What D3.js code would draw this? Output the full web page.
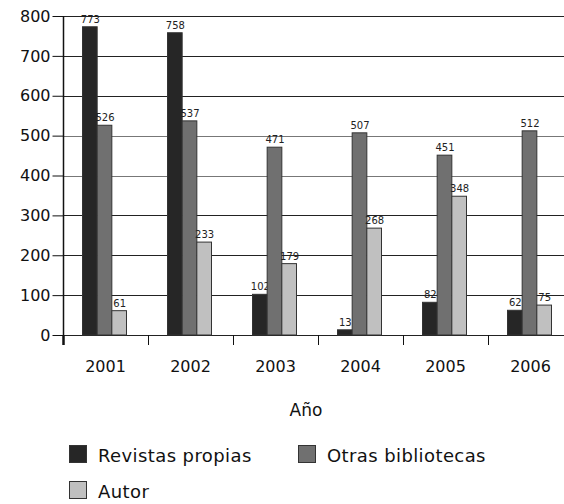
<!DOCTYPE html>
<html>
<head>
<meta charset="utf-8">
<script src="https://cdn.jsdelivr.net/npm/d3@7"></script>
<style>
  html, body { margin: 0; padding: 0; background: #fff; }
  svg { display: block; }
  text { font-family: "DejaVu Sans", Verdana, sans-serif; }
</style>
</head>
<body>
<svg id="chart" width="564" height="504"></svg>
<script>
// Préstamos por año y procedencia
const years = ["2001", "2002", "2003", "2004", "2005", "2006"];
const seriesNames = ["Revistas propias", "Otras bibliotecas", "Autor"];
const revistasPropias = [773, 758, 102, 13, 82, 62];
const otrasBibliotecas = [526, 537, 471, 507, 451, 512];
const autor = [61, 233, 179, 268, 348, 75];
const yTicks = [0, 100, 200, 300, 400, 500, 600, 700, 800];
const seriesColors = ["#262626", "#707070", "#c0c0c0"];
const gridColors = ["#222", "#222", "#222", "#222", "#777", "#777", "#222", "#222", "#222"];

const seriesValues = [revistasPropias, otrasBibliotecas, autor];

const svg = d3.select("#chart");
const plotLeft = 63, plotTop = 16, plotBottom = 335;
const groupW = 85;

const x = d3.scaleBand().domain(years).range([plotLeft, plotLeft + groupW * years.length]).padding(0);
const xInner = d3.scaleBand().domain(seriesNames).range([19, 63]).padding(0);
const y = d3.scaleLinear().domain([0, 800]).range([plotBottom, plotTop]);

// horizontal grid lines
svg.append("g").selectAll("line").data(yTicks).join("line")
  .attr("x1", plotLeft).attr("x2", 564)
  .attr("y1", d => Math.round(y(d)) + 0.5).attr("y2", d => Math.round(y(d)) + 0.5)
  .attr("stroke", (d, i) => gridColors[i]).attr("stroke-width", 1);

// bars with value labels
const groups = svg.append("g").selectAll("g").data(years).join("g")
  .attr("transform", d => `translate(${x(d)},0)`);

groups.each(function(yr, gi) {
  const g = d3.select(this);
  seriesNames.forEach((s, si) => {
    const v = seriesValues[si][gi];
    g.append("rect")
      .attr("x", xInner(s) + 0.5)
      .attr("width", xInner.bandwidth())
      .attr("y", y(v))
      .attr("height", y(0) - y(v))
      .attr("fill", seriesColors[si])
      .attr("stroke", "#333").attr("stroke-width", 1);
    g.append("text")
      .attr("x", xInner(s) + xInner.bandwidth() / 2 + 1)
      .attr("y", y(v) - 4)
      .attr("text-anchor", "middle")
      .attr("font-size", 10)
      .attr("fill", "#222")
      .text(v);
  });
});

// y axis
const yAxis = d3.axisLeft(y).tickValues(yTicks).tickSize(11).tickPadding(2).tickFormat(d3.format("d"));
const gy = svg.append("g").attr("transform", `translate(${plotLeft + 0.5},0)`).call(yAxis);
gy.select(".domain").attr("stroke", "#111").attr("stroke-width", 1.5).attr("d", `M0,${plotTop}V${plotBottom}`);
gy.selectAll(".tick line").attr("stroke", "#111");
gy.selectAll(".tick text").attr("font-size", 16).attr("fill", "#111")
  .attr("font-family", "DejaVu Sans, Verdana, sans-serif");

// x axis: ticks at group boundaries, labels at group centres
const bounds = years.map(d => x(d));
svg.append("g").selectAll("line").data(bounds).join("line")
  .attr("x1", d => Math.round(d) + 0.5).attr("x2", d => Math.round(d) + 0.5)
  .attr("y1", plotBottom).attr("y2", plotBottom + 10)
  .attr("stroke", "#111").attr("stroke-width", (d, i) => i === 0 ? 2.5 : 1);

svg.append("g").selectAll("text").data(years).join("text")
  .attr("x", d => x(d) + x.bandwidth() / 2)
  .attr("y", 372)
  .attr("text-anchor", "middle")
  .attr("font-size", 16)
  .attr("fill", "#111")
  .text(d => d);

svg.append("text")
  .attr("x", 306).attr("y", 416)
  .attr("text-anchor", "middle")
  .attr("font-size", 17).attr("fill", "#111")
  .text("Año");

// legend
const legendPos = [[69, 445], [298, 445], [69, 481]];
const legend = svg.append("g").selectAll("g").data(seriesNames).join("g")
  .attr("transform", (d, i) => `translate(${legendPos[i][0]},${legendPos[i][1]})`);
legend.append("rect")
  .attr("x", 0.5).attr("y", 0.5).attr("width", 17).attr("height", 17)
  .attr("fill", (d, i) => seriesColors[i]).attr("stroke", "#333");
legend.append("text")
  .attr("x", 29).attr("y", 17)
  .attr("font-size", 18).attr("letter-spacing", 0.4).attr("fill", "#111")
  .text(d => d);
</script>
</body>
</html>
